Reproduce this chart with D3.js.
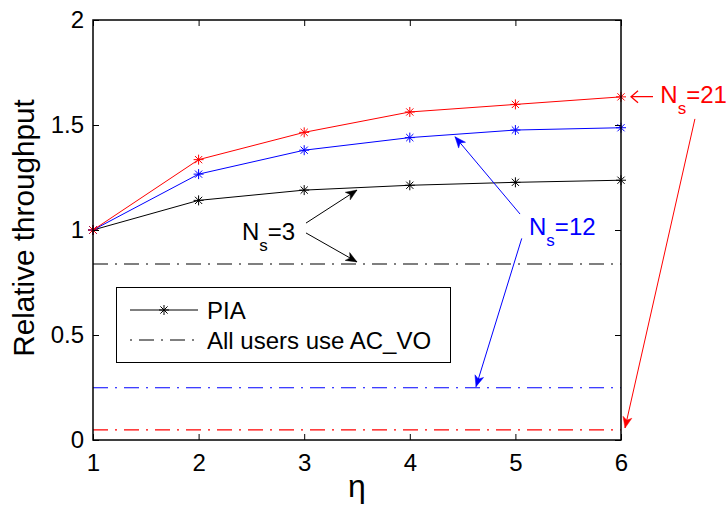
<!DOCTYPE html>
<html>
<head>
<meta charset="UTF-8">
<title>Relative throughput</title>
<script src="https://d3js.org/d3.v7.min.js"></script>
<style>
  body { margin: 0; background: #fff; }
  text { font-family: "Liberation Sans", Arial, sans-serif; }
</style>
</head>
<body>
<div id="chart"></div>
<script>
// eta values on the x axis
var etaValues = [1, 2, 3, 4, 5, 6];
// PIA relative throughput for each number of stations
var piaNs21 = [1, 1.335, 1.465, 1.562, 1.598, 1.634];
var piaNs12 = [1, 1.266, 1.380, 1.440, 1.476, 1.487];
var piaNs3  = [1, 1.141, 1.190, 1.213, 1.227, 1.237];
// "All users use AC_VO" constant levels
var acvoNs3  = 0.838;
var acvoNs12 = 0.249;
var acvoNs21 = 0.048;
// tick labels
var xTicks = [1, 2, 3, 4, 5, 6];
var yTicks = [0, 0.5, 1, 1.5, 2];
var yTickLabels = ["0", "0.5", "1", "1.5", "2"];

var width = 728, height = 505;
var margin = {left: 93, right: 107, top: 20, bottom: 65};

var svg = d3.select("#chart").append("svg")
    .attr("width", width)
    .attr("height", height);

var x = d3.scaleLinear().domain([1, 6]).range([margin.left, width - margin.right]);
var y = d3.scaleLinear().domain([0, 2]).range([height - margin.bottom, margin.top]);

var dashDot = "15,7,2,7";

// constant AC_VO lines
var series = [
    {pia: piaNs3, acvo: acvoNs3, color: "#000000"},
    {pia: piaNs12, acvo: acvoNs12, color: "#0000ff"},
    {pia: piaNs21, acvo: acvoNs21, color: "#ff0000"}
];

series.forEach(function(s) {
    svg.append("line")
        .attr("x1", x(1)).attr("x2", x(6))
        .attr("y1", y(s.acvo)).attr("y2", y(s.acvo))
        .attr("stroke", s.color)
        .attr("stroke-width", 1.1)
        .attr("stroke-dasharray", dashDot);
});

// asterisk marker path
function star(r) {
    var d = "M0," + (-r) + "L0," + r + "M" + (-r) + ",0L" + r + ",0";
    var k = r * 0.72;
    d += "M" + (-k) + "," + (-k) + "L" + k + "," + k + "M" + (-k) + "," + k + "L" + k + "," + (-k);
    return d;
}

var line = d3.line()
    .x(function(d, i) { return x(etaValues[i]); })
    .y(function(d) { return y(d); });

series.forEach(function(s) {
    svg.append("path")
        .datum(s.pia)
        .attr("d", line)
        .attr("fill", "none")
        .attr("stroke", s.color)
        .attr("stroke-width", 1);
    svg.selectAll(null)
        .data(s.pia)
        .enter().append("path")
        .attr("transform", function(d, i) { return "translate(" + x(etaValues[i]) + "," + y(d) + ")"; })
        .attr("d", star(5))
        .attr("stroke", s.color)
        .attr("stroke-width", 1)
        .attr("fill", "none");
});

// axes box
svg.append("rect")
    .attr("x", x(1)).attr("y", y(2))
    .attr("width", x(6) - x(1)).attr("height", y(0) - y(2))
    .attr("fill", "none")
    .attr("stroke", "#000")
    .attr("stroke-width", 1.5);

var xAxis = d3.axisBottom(x).tickValues(xTicks).tickSize(-6).tickPadding(14).tickFormat(d3.format("d"));
var yAxis = d3.axisLeft(y).tickValues(yTicks).tickSize(-6).tickPadding(9)
    .tickFormat(function(d, i) { return yTickLabels[i]; });

var gx = svg.append("g").attr("transform", "translate(0," + y(0) + ")").call(xAxis);
var gy = svg.append("g").attr("transform", "translate(" + x(1) + ",0)").call(yAxis);
// mirrored ticks on top and right
var gxt = svg.append("g").attr("transform", "translate(0," + y(2) + ")")
    .call(d3.axisTop(x).tickValues(xTicks).tickSize(-6).tickFormat(""));
var gyr = svg.append("g").attr("transform", "translate(" + x(6) + ",0)")
    .call(d3.axisRight(y).tickValues(yTicks).tickSize(-6).tickFormat(""));

[gx, gy, gxt, gyr].forEach(function(g) {
    g.select(".domain").remove();
    g.selectAll(".tick line").attr("stroke", "#000").attr("stroke-width", 1);
    g.selectAll("text")
        .attr("font-family", "Liberation Sans, Arial, sans-serif")
        .attr("font-size", 24)
        .attr("fill", "#000");
});

// axis titles
svg.append("text")
    .attr("x", (x(1) + x(6)) / 2)
    .attr("y", 497)
    .attr("text-anchor", "middle")
    .attr("font-size", 32)
    .text("η");

svg.append("text")
    .attr("transform", "translate(34,228) rotate(-90)")
    .attr("text-anchor", "middle")
    .attr("font-size", 29.7)
    .text("Relative throughput");

// legend
var lg = svg.append("g");
lg.append("rect")
    .attr("x", 116.5).attr("y", 287.5)
    .attr("width", 334).attr("height", 75)
    .attr("fill", "#fff").attr("stroke", "#000").attr("stroke-width", 1);
lg.append("line").attr("x1", 130).attr("x2", 198).attr("y1", 310).attr("y2", 310)
    .attr("stroke", "#000").attr("stroke-width", 1);
lg.append("path").attr("transform", "translate(164,310)").attr("d", star(5))
    .attr("stroke", "#000").attr("fill", "none");
lg.append("text").attr("x", 207).attr("y", 318.5).attr("font-size", 24).text("PIA");
lg.append("line").attr("x1", 130).attr("x2", 198).attr("y1", 340).attr("y2", 340)
    .attr("stroke", "#000").attr("stroke-width", 1)
    .attr("stroke-dasharray", "2,7,15,7");
lg.append("text").attr("x", 207).attr("y", 348.5).attr("font-size", 24).text("All users use AC_VO");

// annotations, positions in data units
var annotations = [
    {label: "3", color: "#000000", tx: 2.41, ty: 0.952,
     arrows: [[3.017, 1.033, 3.50, 1.190], [3.017, 0.986, 3.50, 0.848]]},
    {label: "12", color: "#0000ff", tx: 5.129, ty: 0.976,
     arrows: [[5.044, 1.076, 4.428, 1.444], [5.06, 0.96, 4.627, 0.254]]},
    {label: "21", color: "#ff0000", tx: 6.372, ty: 1.605,
     arrows: [[6.70, 1.529, 6.038, 0.057]]}
];

function arrowHead(x1, y1, x2, y2, color) {
    var a = Math.atan2(y2 - y1, x2 - x1);
    var L = 11, W = 4.5, N = 8;
    var p = function(l, w) {
        return [x2 - l * Math.cos(a) - w * Math.sin(a), y2 - l * Math.sin(a) + w * Math.cos(a)];
    };
    var pts = [[x2, y2], p(L, W), p(N, 0), p(L, -W)];
    svg.append("path")
        .attr("d", "M" + pts.join("L") + "Z")
        .attr("fill", color)
        .attr("stroke", color)
        .attr("stroke-width", 0.5);
}

annotations.forEach(function(an) {
    var t = svg.append("text")
        .attr("x", x(an.tx)).attr("y", y(an.ty))
        .attr("font-size", 24)
        .attr("fill", an.color);
    t.append("tspan").text("N");
    t.append("tspan").attr("font-size", 17).attr("dy", 11).text("s");
    t.append("tspan").attr("dy", -11).text("=" + an.label);
    an.arrows.forEach(function(a) {
        var x1 = x(a[0]), y1 = y(a[1]), x2 = x(a[2]), y2 = y(a[3]);
        svg.append("line")
            .attr("x1", x1).attr("y1", y1).attr("x2", x2).attr("y2", y2)
            .attr("stroke", an.color).attr("stroke-width", 1);
        arrowHead(x1, y1, x2, y2, an.color);
    });
});

// open left arrow before N_s=21
var la = {x1: 6.303, x2: 6.095, yv: 1.635};
svg.append("path")
    .attr("d", "M" + x(la.x1) + "," + y(la.yv) + "L" + x(la.x2) + "," + y(la.yv) +
        "M" + (x(la.x2) + 7) + "," + (y(la.yv) - 6) + "L" + x(la.x2) + "," + y(la.yv) +
        "L" + (x(la.x2) + 7) + "," + (y(la.yv) + 6))
    .attr("fill", "none")
    .attr("stroke", "#ff0000")
    .attr("stroke-width", 1.3);
</script>
</body>
</html>
